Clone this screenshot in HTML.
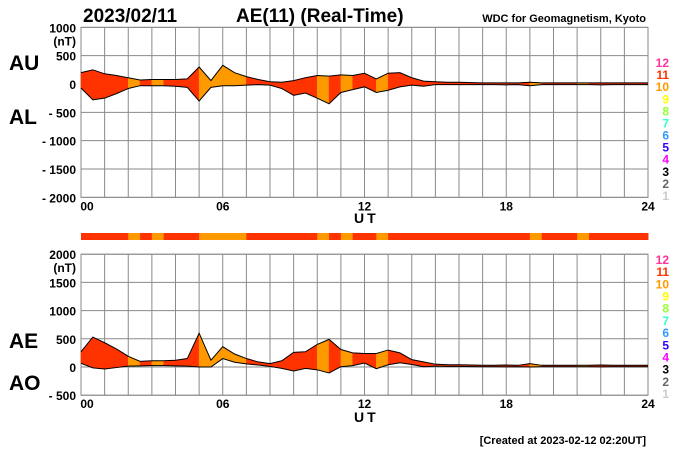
<!DOCTYPE html>
<html><head><meta charset="utf-8"><style>
body{margin:0;background:#fff;}
svg text{font-family:"Liberation Sans",sans-serif;}
</style></head><body>
<svg id="c" width="700" height="450" xmlns="http://www.w3.org/2000/svg">
<text x="83" y="22" font-size="19" font-weight="bold">2023/02/11</text>
<text x="236" y="22" font-size="19" font-weight="bold">AE(11) (Real-Time)</text>
<text x="646" y="22" font-size="11" font-weight="bold" text-anchor="end">WDC for Geomagnetism, Kyoto</text>
<text x="9" y="70" font-size="21" font-weight="bold">AU</text>
<text x="9" y="124" font-size="21" font-weight="bold">AL</text>
<text x="9" y="348" font-size="21" font-weight="bold">AE</text>
<text x="9" y="390" font-size="21" font-weight="bold">AO</text>
<text x="354" y="223" font-size="14" font-weight="bold" letter-spacing="3">UT</text>
<text x="354" y="422" font-size="14" font-weight="bold" letter-spacing="3">UT</text>
<text x="646" y="444" font-size="11" font-weight="bold" text-anchor="end">[Created at 2023-02-12 02:20UT]</text>
<g id="g"></g>
</svg>
<script>
const hours=[0,0.5,1,1.5,2,2.5,3,3.5,4,4.5,5,5.5,6,6.5,7,7.5,8,8.5,9,9.5,10,10.5,11,11.5,12,12.5,13,13.5,14,14.5,15,15.5,16,16.5,17,17.5,18,18.5,19,19.5,20,20.5,21,21.5,22,22.5,23,23.5,24];
const auValues=[200,250,180,150,110,70,80,80,80,90,300,60,330,200,130,80,40,30,60,110,150,140,160,150,190,90,190,200,110,50,40,30,30,25,20,20,20,20,30,20,20,20,20,20,20,20,20,20,20];
const alValues=[-70,-280,-250,-170,-80,-30,-30,-30,-40,-60,-300,-60,-30,-30,-20,-10,-20,-80,-200,-160,-250,-350,-150,-100,-50,-150,-110,-50,-20,-40,-10,-10,-10,-10,-10,-10,-15,-10,-30,-10,-10,-10,-10,-10,-15,-10,-10,-10,-10];
const levels=[11,11,11,11,10,11,10,11,11,11,10,10,10,10,11,11,11,11,11,11,10,11,10,11,11,10,11,11,11,11,11,11,11,11,11,11,11,11,10,11,11,11,10,11,11,11,11,11,11];
const topTicks=[1000,500,0,-500,-1000,-1500,-2000];
const botTicks=[2000,1500,1000,500,0,-500];
const hourTicks=["00","06","12","18","24"];
const levelLabels=[12,11,10,9,8,7,6,5,4,3,2,1];
const levelColors={12:"#ff3399",11:"#ff3300",10:"#ff9900",9:"#ffff00",8:"#99ff33",7:"#33ffcc",6:"#3399ff",5:"#3300ff",4:"#ff00ff",3:"#000",2:"#666",1:"#ccc"};

const NS="http://www.w3.org/2000/svg",G=document.getElementById('g');
const X0=81,X1=648;
const xs=h=>X0+(X1-X0)*h/24;
const yTop=v=>84-v*(170/3000);
const yBot=v=>367-v*(141/2500);
function mk(t,a,p){const e=document.createElementNS(NS,t);for(const k in a)e.setAttribute(k,a[k]);(p||G).appendChild(e);return e;}
function panel(ys,ticks,lo,hi,nm,legY0,legY1){
  const pg=mk('g',{});
  
  
  for(let h=0;h<=24;h++){const l=mk('line',{x1:xs(h),x2:xs(h),y1:ys(hi),y2:ys(lo),stroke:'#8a8a8a','stroke-width':1},pg);
    }
  ticks.forEach((v,i)=>{const l=mk('line',{x1:X0,x2:X1,y1:ys(v),y2:ys(v),stroke:'#8a8a8a','stroke-width':1},pg);
    
    const t=mk('text',{x:76,y:ys(v)+5,'font-size':12,'font-weight':'bold','text-anchor':'end'},pg);
    t.textContent=(v<0?'- '+(-v):String(v));
    
    if(i==0){const u=mk('text',{x:76,y:ys(v)+18,'font-size':12,'font-weight':'bold','text-anchor':'end'},pg);u.textContent='(nT)';
      }
  });
  hourTicks.forEach((s,i)=>{const t=mk('text',{x:xs(i*6)+(i==0?6:0),y:ys(lo)+13,'font-size':12,'font-weight':'bold','text-anchor':'middle'},pg);t.textContent=s;
    });
  levelLabels.forEach((n,i)=>{const t=mk('text',{x:669,y:legY0+(legY1-legY0)*i/11+5,'font-size':12,'font-weight':'bold','text-anchor':'end',fill:levelColors[n]},pg);t.textContent=n;
    });
  const b=mk('rect',{x:X0,y:ys(hi),width:X1-X0,height:ys(lo)-ys(hi),fill:'none',stroke:'#8a8a8a'},pg);
  
  return pg;
}
function series(ys,upper,lower,pg,nm){
  for(let i=0;i<hours.length-1;i++){
    const a=xs(hours[i]),b=xs(hours[i+1]);
    const p=mk('polygon',{points:`${a},${ys(upper[i])} ${b},${ys(upper[i+1])} ${b},${ys(lower[i+1])} ${a},${ys(lower[i])}`,fill:levelColors[levels[i]],stroke:levelColors[levels[i]],'stroke-width':0.5},pg);
    
  }
  [upper,lower].forEach((arr,k)=>{const l=mk('polyline',{points:hours.map((h,i)=>xs(h)+','+ys(arr[i])).join(' '),fill:'none',stroke:'#000','stroke-width':1},pg);
    });
}
const p1=panel(yTop,topTicks,-2000,1000,'au-al',62,195);
series(yTop,auValues,alValues,p1,'au-al');
const aeValues=auValues.map((u,i)=>u-alValues[i]);
const aoValues=auValues.map((u,i)=>(u+alValues[i])/2);
const p2=panel(yBot,botTicks,-500,2000,'ae-ao',259,393);
series(yBot,aeValues,aoValues,p2,'ae-ao');
for(let i=0;i<hours.length-1;i++){
  const r=mk('rect',{x:xs(hours[i]),y:233,width:xs(hours[i+1])-xs(hours[i])+0.5,height:7,fill:levelColors[levels[i]]});
  
  
}
</script>
</body></html>
